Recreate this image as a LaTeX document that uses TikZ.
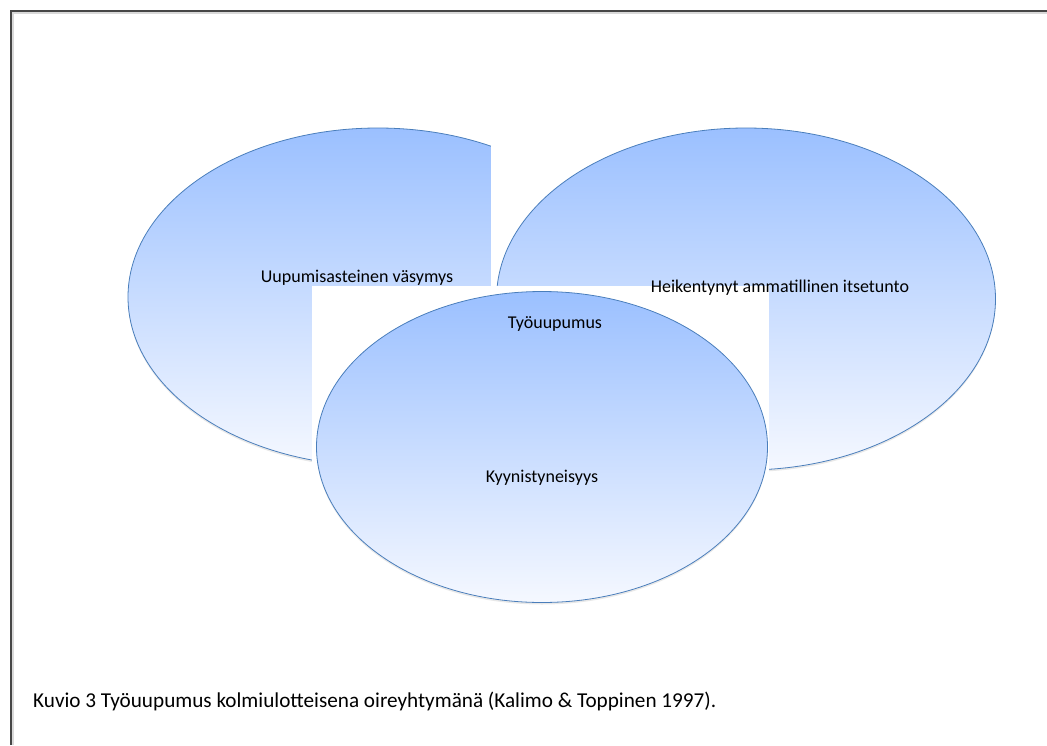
\documentclass[tikz,border=0pt]{standalone}
\usepackage{fontspec}
\setmainfont{Carlito}
\usetikzlibrary{shapes.geometric,shadows}
\definecolor{ovalline}{HTML}{4A7EBB}
\definecolor{ovaltop}{RGB}{155,192,255}
\definecolor{ovalbottom}{RGB}{245,248,255}
\definecolor{framegray}{RGB}{70,70,70}
\begin{document}
\begin{tikzpicture}[x=1pt, y=-1pt,
        oval/.style={ellipse, draw=ovalline, line width=0.8pt, top color=ovaltop,
            bottom color=ovalbottom, inner sep=0pt,
            drop shadow={opacity=0.18, shadow xshift=0pt, shadow yshift=-2pt}},
        ovaltext/.style={anchor=base, inner sep=0pt, font=\fontsize{18}{20}\selectfont},
        cover/.style={fill=white}]
    \useasboundingbox (0,0) rectangle (1047,745);

    \draw[black!15, line width=2pt] (13,745) -- (13,13) -- (1047,13);
    \draw[framegray, line width=1.2pt] (11,745) -- (11,11) -- (1047,11);

    \node[oval, minimum width=500pt, minimum height=338pt] (vasymys) at (378,297) {};
    \fill[cover] (491,40) rectangle (660,286);

    \node[oval, minimum width=499pt, minimum height=342pt] (itsetunto) at (746,299) {};
    \fill[cover] (312,286) rectangle (769,482);

    \node[oval, minimum width=451pt, minimum height=311pt] (tyouupumus) at (542,447) {};

    \node[ovaltext] (vasymysteksti) at (357,282) {Uupumisasteinen väsymys};
    \node[ovaltext] (itsetuntoteksti) at (780,292) {Heikentynyt ammatillinen itsetunto};
    \node[ovaltext] (tyouupumusteksti) at (555,328) {Työuupumus};
    \node[ovaltext] (kyynisyysteksti) at (542,482) {Kyynistyneisyys};

    \node[anchor=base west, inner sep=0pt, font=\fontsize{21.2}{23}\selectfont] (kuvio) at (33,707)
        {Kuvio 3 Työuupumus kolmiulotteisena oireyhtymänä (Kalimo \& Toppinen 1997).};
\end{tikzpicture}
\end{document}
